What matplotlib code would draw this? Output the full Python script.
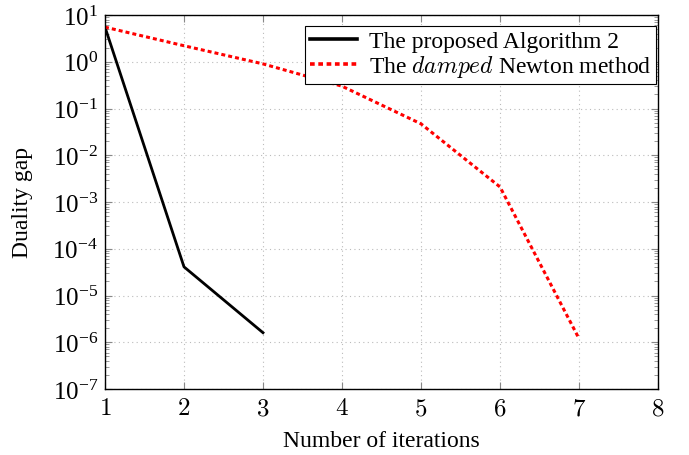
import matplotlib
matplotlib.use("Agg")
import matplotlib.pyplot as plt
from matplotlib.ticker import LogLocator, FixedLocator, NullFormatter

plt.rcParams['font.family'] = ['Liberation Serif', 'DejaVu Serif']
plt.rcParams['mathtext.fontset'] = 'cm'

iters_alg = [1, 2, 3]
gap_alg = [5.5, 4.1e-5, 1.6e-6]
iters_newton = [1, 2, 3, 4, 5, 6, 7]
gap_newton = [5.5, 2.2, 0.9, 0.3, 0.047, 2.1e-3, 1.2e-6]
xticks = [1, 2, 3, 4, 5, 6, 7, 8]
label_alg = "The proposed Algorithm 2"
label_newton = r"The $damped$ Newton method"

fig = plt.figure(figsize=(6.89, 4.56), dpi=100)
ax = fig.add_axes([105/689, 1-390/456, (658-105)/689, (390-16)/456])

ax.plot(iters_alg, gap_alg, color='black', lw=2.0, label=label_alg)
ax.plot(iters_newton, gap_newton, color='red', lw=2.2, dashes=(1.3, 1.0), label=label_newton)

ax.set_yscale('log')
ax.set_xlim(1, 8)
ax.set_ylim(1e-7, 1e1)
ax.xaxis.set_major_locator(FixedLocator(xticks))
ax.set_xticklabels([f"${t}$" for t in xticks])
ax.yaxis.set_major_locator(LogLocator(base=10, numticks=20))
ax.yaxis.set_minor_locator(LogLocator(base=10, subs=range(2, 10), numticks=20))
ax.yaxis.set_minor_formatter(NullFormatter())

ax.tick_params(axis='both', which='both', direction='in', top=True, right=True,
               color='#888888', labelsize=18)
ax.tick_params(axis='both', which='major', length=5, width=0.8)
ax.tick_params(axis='y', which='minor', length=3, width=0.6)
ax.tick_params(axis='x', pad=6)
ax.tick_params(axis='y', pad=5)

ax.grid(True, which='major', linestyle=(0, (1, 3)), color='#bbbbbb', lw=0.8)
for s in ax.spines.values():
    s.set_color('black')
    s.set_linewidth(1.0)

ax.set_xlabel("Number of iterations", fontsize=17, labelpad=8)
ax.set_ylabel("Duality gap", fontsize=17, labelpad=14)

leg = ax.legend(loc='upper right', bbox_to_anchor=(1 - 2/553, 1 - 11/374),
                fontsize=17, frameon=True, fancybox=False,
                edgecolor='black', framealpha=1, handlelength=2.0,
                borderaxespad=0.0, borderpad=0.2, labelspacing=0.05, handletextpad=0.5)
leg.get_frame().set_linewidth(0.8)
for h in leg.get_lines():
    h.set_linewidth(2.6)

fig.savefig("out.png", dpi=100)
